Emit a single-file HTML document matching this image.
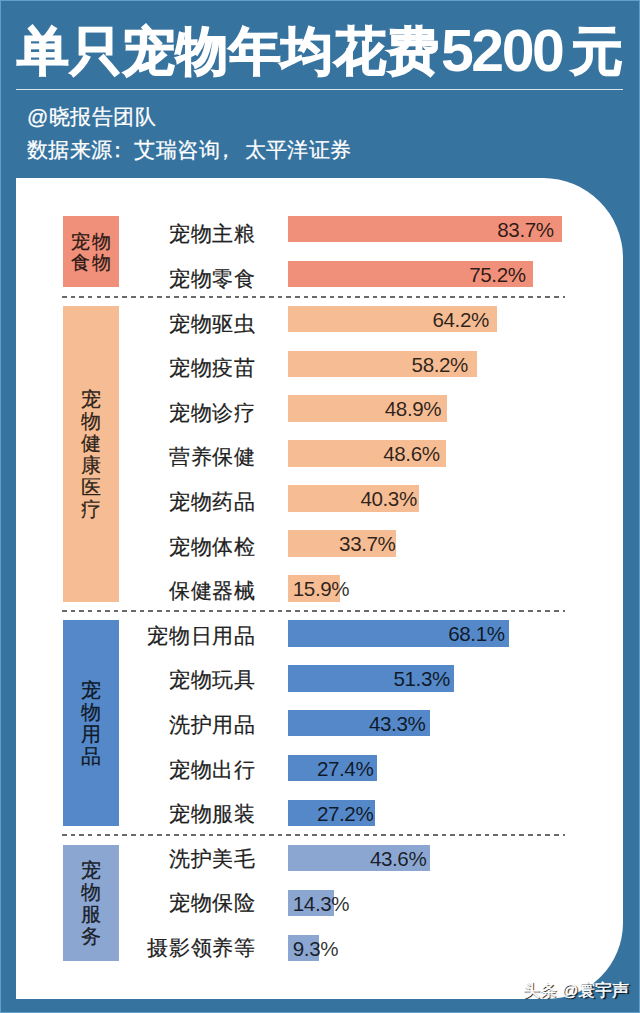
<!DOCTYPE html>
<html><head><meta charset="utf-8">
<style>
html,body{margin:0;padding:0;}
body{width:640px;height:1013px;background:#36739F;position:relative;overflow:hidden;font-family:"Liberation Sans",sans-serif;}
.edgeL{position:absolute;left:0;top:0;width:1.2px;height:1013px;background:#62a0cc;}
.edgeT{position:absolute;left:0;top:0;width:640px;height:1px;background:#62a0cc;}
.edgeR{position:absolute;right:0;top:0;width:1.2px;height:1013px;background:#62a0cc;}
.edgeB{position:absolute;left:0;bottom:0;width:640px;height:1.4px;background:#62a0cc;}
.t{position:absolute;color:#fff;font-weight:700;white-space:nowrap;line-height:64px;}
.tc{font-size:52px;letter-spacing:0.9px;-webkit-text-stroke:1.4px #fff;}
.td{font-size:59px;letter-spacing:-2.5px;}
.hline{position:absolute;left:16px;top:88.5px;width:607px;height:1.5px;background:#d6e4ef;}
.sub{position:absolute;left:27px;color:#fff;font-size:21px;line-height:24px;white-space:nowrap;letter-spacing:0.45px;-webkit-text-stroke:0.25px #fff;}
.panel{position:absolute;left:16px;top:178px;width:607px;height:821px;background:#fff;border-top-right-radius:80px;border-bottom-right-radius:76px;}
.bar{position:absolute;left:288.3px;height:26.5px;}
.lab{position:absolute;right:384px;line-height:21px;font-size:21px;color:#222;white-space:nowrap;letter-spacing:0.8px;-webkit-text-stroke:0.2px #222;}
.pct{position:absolute;height:26.5px;line-height:28px;font-size:20.6px;color:rgba(0,0,0,0.82);white-space:nowrap;letter-spacing:-0.4px;}
.grp{position:absolute;left:63px;width:56.3px;display:flex;align-items:center;justify-content:center;}
.grp span{font-size:20px;color:rgba(0,0,0,0.8);text-align:center;-webkit-text-stroke:0.3px rgba(0,0,0,0.8);}
.grp.w span{font-size:18.5px;line-height:20.5px;letter-spacing:2.2px;margin-right:-2.2px;position:relative;top:1.5px;}
.grp.v span{line-height:22px;}
.dash{position:absolute;left:62px;width:503px;height:1.7px;background:repeating-linear-gradient(90deg,#6a6a6a 0 4.6px,transparent 4.6px 8.63px);}
.wm{position:absolute;left:523px;top:979px;color:#fff;font-size:16.5px;line-height:22px;white-space:nowrap;-webkit-text-stroke:0.4px #fff;text-shadow:1.2px 1.2px 1px #000;}
</style></head><body>
<div class="edgeL"></div><div class="edgeT"></div><div class="edgeR"></div><div class="edgeB"></div>
<div class="t tc" style="left:17px;top:19px">单只宠物年均花费</div>
<div class="t td" style="left:441px;top:19px">5200</div>
<div class="t tc" style="left:571px;top:19px">元</div>
<div class="hline"></div>
<div class="sub" style="top:105px">@晓报告团队</div>
<div class="sub" style="top:138px">数据来源<span style="position:relative;left:-6px">：</span>艾瑞咨询<span style="position:relative;left:-5px">，</span><span style="margin-left:3px">太平洋证券</span></div>
<div class="panel"></div>
<div class="bar" style="top:215.80px;width:274.0px;background:#F0907A"></div>
<div class="lab" style="top:223.30px">宠物主粮</div>
<div class="pct r" style="top:215.80px;right:86.3px">83.7%</div>
<div class="bar" style="top:260.72px;width:245.0px;background:#F0907A"></div>
<div class="lab" style="top:267.90px">宠物零食</div>
<div class="pct r" style="top:260.72px;right:114.4px">75.2%</div>
<div class="bar" style="top:305.64px;width:209.2px;background:#F6BD95"></div>
<div class="lab" style="top:312.50px">宠物驱虫</div>
<div class="pct r" style="top:305.64px;right:151.1px">64.2%</div>
<div class="bar" style="top:350.56px;width:188.4px;background:#F6BD95"></div>
<div class="lab" style="top:357.10px">宠物疫苗</div>
<div class="pct r" style="top:350.56px;right:172.0px">58.2%</div>
<div class="bar" style="top:395.48px;width:159.1px;background:#F6BD95"></div>
<div class="lab" style="top:401.70px">宠物诊疗</div>
<div class="pct r" style="top:395.48px;right:198.8px">48.9%</div>
<div class="bar" style="top:440.40px;width:158.0px;background:#F6BD95"></div>
<div class="lab" style="top:446.30px">营养保健</div>
<div class="pct r" style="top:440.40px;right:200.4px">48.6%</div>
<div class="bar" style="top:485.32px;width:130.3px;background:#F6BD95"></div>
<div class="lab" style="top:490.90px">宠物药品</div>
<div class="pct r" style="top:485.32px;right:223.2px">40.3%</div>
<div class="bar" style="top:530.24px;width:108.0px;background:#F6BD95"></div>
<div class="lab" style="top:535.50px">宠物体检</div>
<div class="pct r" style="top:530.24px;right:244.5px">33.7%</div>
<div class="bar" style="top:575.16px;width:51.5px;background:#F6BD95"></div>
<div class="lab" style="top:580.10px">保健器械</div>
<div class="pct" style="top:575.16px;left:292.8px">15.9%</div>
<div class="bar" style="top:620.08px;width:220.8px;background:#5588C8"></div>
<div class="lab" style="top:624.70px">宠物日用品</div>
<div class="pct r" style="top:620.08px;right:135.4px">68.1%</div>
<div class="bar" style="top:665.00px;width:165.4px;background:#5588C8"></div>
<div class="lab" style="top:669.30px">宠物玩具</div>
<div class="pct r" style="top:665.00px;right:190.1px">51.3%</div>
<div class="bar" style="top:709.92px;width:141.6px;background:#5588C8"></div>
<div class="lab" style="top:713.90px">洗护用品</div>
<div class="pct r" style="top:709.92px;right:214.6px">43.3%</div>
<div class="bar" style="top:754.84px;width:88.7px;background:#5588C8"></div>
<div class="lab" style="top:758.50px">宠物出行</div>
<div class="pct r" style="top:754.84px;right:266.7px">27.4%</div>
<div class="bar" style="top:799.76px;width:87.0px;background:#5588C8"></div>
<div class="lab" style="top:803.10px">宠物服装</div>
<div class="pct r" style="top:799.76px;right:266.7px">27.2%</div>
<div class="bar" style="top:844.68px;width:141.8px;background:#8CA6D2"></div>
<div class="lab" style="top:847.70px">洗护美毛</div>
<div class="pct r" style="top:844.68px;right:213.7px">43.6%</div>
<div class="bar" style="top:889.60px;width:45.7px;background:#8CA6D2"></div>
<div class="lab" style="top:892.30px">宠物保险</div>
<div class="pct" style="top:889.60px;left:292.8px">14.3%</div>
<div class="bar" style="top:934.52px;width:30.7px;background:#8CA6D2"></div>
<div class="lab" style="top:936.90px">摄影领养等</div>
<div class="pct" style="top:934.52px;left:292.8px">9.3%</div>
<div class="grp w" style="top:215.8px;height:71.4px;background:#F0907A"><span>宠物<br>食物</span></div>
<div class="grp v" style="top:305.6px;height:296.0px;background:#F6BD95"><span>宠<br>物<br>健<br>康<br>医<br>疗</span></div>
<div class="grp v" style="top:620.1px;height:206.2px;background:#5588C8"><span>宠<br>物<br>用<br>品</span></div>
<div class="grp v" style="top:844.7px;height:116.3px;background:#8CA6D2"><span>宠<br>物<br>服<br>务</span></div>
<div class="dash" style="top:295.9px"></div>
<div class="dash" style="top:610.2px"></div>
<div class="dash" style="top:834.2px"></div>
<div class="wm">头条 @寰宇声</div>
</body></html>
